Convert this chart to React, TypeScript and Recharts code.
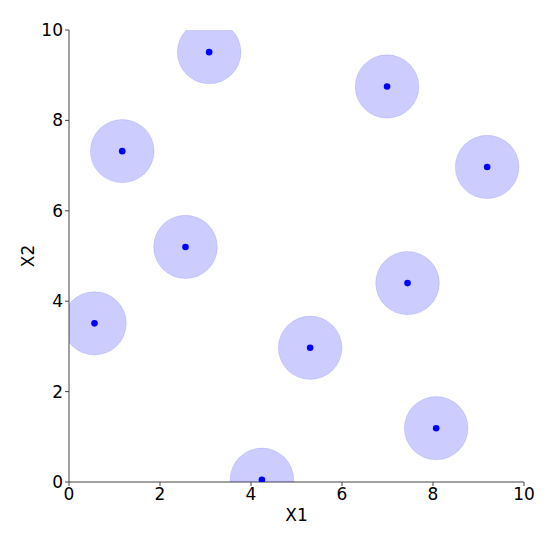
import React from 'react';
import { ScatterChart, Scatter, XAxis, YAxis } from 'recharts';

const x1Values = [3.08, 6.99, 1.17, 9.19, 2.56, 7.44, 0.56, 5.30, 8.07, 4.24];
const x2Values = [9.51, 8.75, 7.32, 6.97, 5.20, 4.40, 3.51, 2.97, 1.19, 0.05];
const ticks = [0, 2, 4, 6, 8, 10];
const circleRadius = 0.7;

const points = x1Values.map((x, i) => ({ x, y: x2Values[i] }));

const W = 550;
const H = 537;
const M = { top: 30, right: 26, bottom: 0, left: 0 };
const Y_W = 69;
const X_H = 55;
const plotW = W - M.left - M.right - Y_W;
const plotH = H - M.top - M.bottom - X_H;
const rx = (circleRadius * plotW) / 10;
const ry = (circleRadius * plotH) / 10;

const font = 'DejaVu Sans, sans-serif';
const axisColor = '#444';

const CircleShape = (props: any) => {
  const { cx, cy } = props;
  if (cx == null || cy == null) return null;
  return (
    <ellipse
      cx={cx}
      cy={cy}
      rx={rx}
      ry={ry}
      fill="rgba(0,0,255,0.2)"
      stroke="rgba(0,0,255,0.1)"
      strokeWidth={1}
    />
  );
};

const DotShape = (props: any) => {
  const { cx, cy } = props;
  if (cx == null || cy == null) return null;
  return <circle cx={cx} cy={cy} r={3.3} fill="#0000ff" />;
};

export default function App() {
  return (
    <div style={{ marginLeft: -8, marginTop: -8, width: W, height: H }}>
      <ScatterChart width={W} height={H} margin={M}>
        <XAxis
          dataKey="x"
          type="number"
          domain={[0, 10]}
          ticks={ticks}
          allowDataOverflow
          height={X_H}
          stroke={axisColor}
          tickSize={4}
          tickMargin={2}
          tick={{ fill: '#000', fontSize: 17, fontFamily: font }}
          label={{
            content: (p: any) => {
              const vb = p.viewBox || {};
              return (
                <text
                  x={vb.x + vb.width / 2}
                  y={515}
                  textAnchor="middle"
                  dominantBaseline="central"
                  fontSize={17}
                  fontFamily={font}
                  fill="#000"
                >
                  X1
                </text>
              );
            },
          }}
        />
        <XAxis
          xAxisId="top"
          orientation="top"
          dataKey="x"
          type="number"
          domain={[0, 10]}
          allowDataOverflow
          height={0}
          tick={false}
          tickLine={false}
          stroke={axisColor}
        />
        <YAxis
          dataKey="y"
          type="number"
          domain={[0, 10]}
          ticks={ticks}
          allowDataOverflow
          width={Y_W}
          stroke={axisColor}
          tickSize={4}
          tickMargin={2}
          tick={{ fill: '#000', fontSize: 17, fontFamily: font }}
          label={{
            content: (p: any) => {
              const vb = p.viewBox || {};
              const cy = vb.y + vb.height / 2;
              return (
                <text
                  x={28}
                  y={cy}
                  transform={`rotate(-90 28 ${cy})`}
                  textAnchor="middle"
                  dominantBaseline="central"
                  fontSize={17}
                  fontFamily={font}
                  fill="#000"
                >
                  X2
                </text>
              );
            },
          }}
        />
        <YAxis
          yAxisId="right"
          orientation="right"
          dataKey="y"
          type="number"
          domain={[0, 10]}
          allowDataOverflow
          width={0}
          tick={false}
          tickLine={false}
          stroke={axisColor}
        />
        <Scatter data={points} shape={<CircleShape />} isAnimationActive={false} />
        <Scatter data={points} shape={<DotShape />} isAnimationActive={false} />
      </ScatterChart>
    </div>
  );
}
